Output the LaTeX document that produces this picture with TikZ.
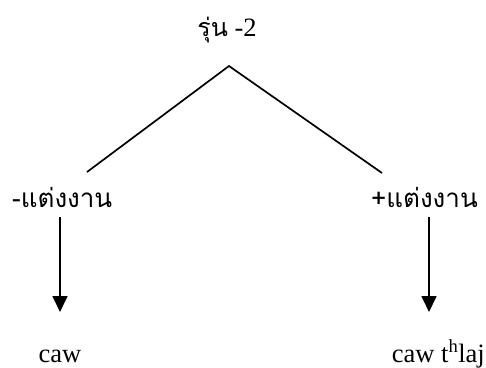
\documentclass[tikz,border=0pt]{standalone}
\usepackage{fontspec}
\setmainfont{Liberation Serif}
\newfontfamily\thaifont[Script=Thai]{Loma}
\usetikzlibrary{arrows.meta}
\begin{document}
\begin{tikzpicture}[x=1pt,y=-1pt,
  lbl/.style={inner sep=0pt, font=\fontsize{26.5}{30}\selectfont},
  thailbl/.style={inner sep=0pt, font=\fontsize{26}{30}\selectfont\thaifont},
  branch/.style={line width=1.7pt},
  down/.style={line width=1.7pt, -{Triangle[width=15pt,length=16pt]}}]
\useasboundingbox (0,0) rectangle (486,367);
% labels
\node[lbl, anchor=base] (top) at (227,36) {{\thaifont\fontsize{25}{30}\selectfont รุ่น} -2};
\node[thailbl, anchor=base west] (neg) at (12,207) {-แต่งงาน};
\node[thailbl, anchor=base west] (pos) at (371,207) {+แต่งงาน};
\node[lbl, anchor=base] (leafl) at (60,362) {caw};
\node[lbl, anchor=base east] (leafr) at (485,362) {caw t\textsuperscript{h}laj};
% branching lines
\coordinate (apex) at (229,66);
\coordinate (endl) at (87,172);
\coordinate (endr) at (382,173);
\draw[branch] (endl) -- (apex) -- (endr);
% arrows
\coordinate (al) at (60,217);
\coordinate (ar) at (429,217);
\coordinate (tl) at (60,312);
\coordinate (tr) at (429,312);
\draw[down] (al) -- (tl);
\draw[down] (ar) -- (tr);
\end{tikzpicture}
\end{document}
